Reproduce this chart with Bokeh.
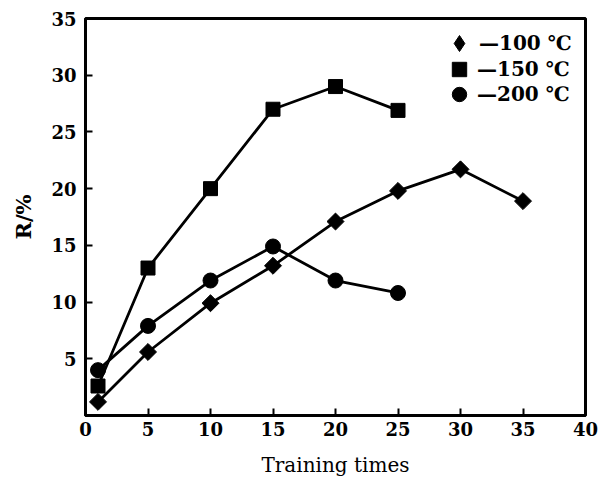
import math
from bokeh.plotting import figure
from bokeh.models import FixedTicker, Legend, LegendItem, Range1d
from bokeh.embed import file_html
from bokeh.resources import INLINE

x_100 = [1, 5, 10, 15, 20, 25, 30, 35]
r_100 = [1.2, 5.6, 9.9, 13.2, 17.1, 19.8, 21.7, 18.9]
x_150 = [1, 5, 10, 15, 20, 25]
r_150 = [2.6, 13.0, 20.0, 27.0, 29.0, 26.9]
x_200 = [1, 5, 10, 15, 20, 25]
r_200 = [4.0, 7.9, 11.9, 14.9, 11.9, 10.8]
x_ticks = [0, 5, 10, 15, 20, 25, 30, 35, 40]
y_ticks = [5, 10, 15, 20, 25, 30, 35]
labels = ["\u2014100 \u2103", "\u2014150 \u2103", "\u2014200 \u2103"]

FONT = "DejaVu Serif"

p = figure(frame_width=500, frame_height=397, output_backend="svg", toolbar_location=None,
           x_range=Range1d(0, 40), y_range=Range1d(0, 35),
           min_border_left=85, min_border_right=15, min_border_top=18, min_border_bottom=40)
p.xgrid.visible = False
p.ygrid.visible = False
p.outline_line_color = "black"
p.outline_line_width = 3
p.background_fill_color = "white"
p.border_fill_color = "white"

for ax in (p.xaxis[0], p.yaxis[0]):
    ax.axis_line_width = 3
    ax.major_tick_in = 7
    ax.major_tick_out = 0
    ax.major_tick_line_width = 2
    ax.minor_tick_line_color = None
    ax.major_label_text_font = FONT
    ax.major_label_text_font_style = "bold"
    ax.major_label_text_font_size = "18px"
    ax.major_label_text_color = "black"
    ax.axis_label_text_font = FONT
    ax.axis_label_text_color = "black"

p.xaxis.ticker = FixedTicker(ticks=x_ticks)
p.yaxis.ticker = FixedTicker(ticks=y_ticks)
p.xaxis.major_label_standoff = 6
p.yaxis.major_label_standoff = 9
p.xaxis.axis_label = "Training times"
p.xaxis.axis_label_text_font_style = "normal"
p.xaxis.axis_label_text_font_size = "20px"
p.xaxis.axis_label_standoff = 14
p.yaxis.axis_label = "R/%"
p.yaxis.axis_label_text_font_style = "bold"
p.yaxis.axis_label_text_font_size = "21px"
p.yaxis.axis_label_standoff = 12

p.line(x_100, r_100, line_color="black", line_width=2.8)
p.line(x_150, r_150, line_color="black", line_width=2.8)
p.line(x_200, r_200, line_color="black", line_width=2.8)
# diamond swatch renderer for the legend (hidden under the rotated squares in the plot)
m1 = p.scatter(x_100, r_100, marker="diamond", size=10, color="black")
p.scatter(x_100, r_100, marker="square", angle=math.pi / 4, size=12, color="black")
m2 = p.scatter(x_150, r_150, marker="square", size=14, color="black")
m3 = p.scatter(x_200, r_200, marker="circle", size=15, color="black")

# one single-entry legend per series so the rows can sit closer than the swatch box
legend_offsets = [(354, 350), (356, 325), (356, 300)]
glyph_boxes = [(40, 44), (36, 42), (36, 42)]
for lab, rend, loc, (gw, gh) in zip(labels, [m1, m2, m3], legend_offsets, glyph_boxes):
    lg = Legend(items=[LegendItem(label=lab, renderers=[rend])], location=loc)
    lg.border_line_color = None
    lg.background_fill_alpha = 0
    lg.label_text_font = FONT
    lg.label_text_font_style = "bold"
    lg.label_text_font_size = "20px"
    lg.label_text_color = "black"
    lg.glyph_width = gw
    lg.glyph_height = gh
    lg.label_height = 20
    lg.label_standoff = 0
    lg.spacing = 0
    lg.padding = 0
    lg.margin = 0
    p.add_layout(lg)

open("out.html", "w").write(file_html(p, INLINE))
